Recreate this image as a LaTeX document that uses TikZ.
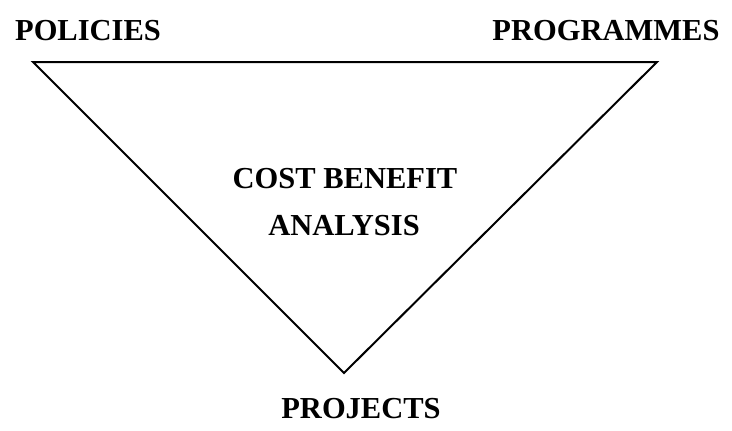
\documentclass[tikz,border=0pt]{standalone}
\usepackage{fontspec}
\setmainfont{Liberation Serif}
\begin{document}
\begin{tikzpicture}[x=1pt,y=-1pt,
  lbl/.style={inner sep=0pt,anchor=base,font=\fontsize{30.5}{36}\selectfont\bfseries},
  edge/.style={line width=2pt,line join=miter}]
\useasboundingbox (0,0) rectangle (732,431);
% corners of the inverted triangle
\coordinate (tl) at (33,62);
\coordinate (tr) at (657,62);
\coordinate (bt) at (344,373);
\draw[edge] (tl) -- (tr) -- (bt) -- cycle;
% labels
\node[lbl] (pol) at (88,41) {POLICIES};
\node[lbl] (prg) at (606,41) {PROGRAMMES};
\node[lbl] (cba1) at (345,188) {COST BENEFIT};
\node[lbl] (cba2) at (344,235) {ANALYSIS};
\node[lbl] (prj) at (361,418) {PROJECTS};
\end{tikzpicture}
\end{document}
